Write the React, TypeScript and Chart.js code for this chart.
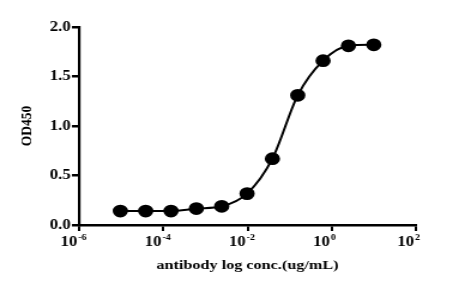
import React, { useEffect, useRef } from "react";
import { Chart, registerables } from "chart.js";

Chart.register(...registerables);

const concentrations = [
  0.0000095367431640625, 0.00003814697265625, 0.000152587890625, 0.0006103515625,
  0.00244140625, 0.009765625, 0.0390625, 0.15625, 0.625, 2.5, 10,
];
const od450 = [0.141, 0.141, 0.141, 0.166, 0.189, 0.317, 0.67, 1.31, 1.66, 1.81, 1.82];
const xTickValues = [1e-6, 1e-4, 1e-2, 1e0, 1e2];
const xTickBase = "10";
const xTickExponents = ["-6", "-4", "-2", "0", "2"];
const yTickValues = [0, 0.5, 1.0, 1.5, 2.0];
const xTitle = "antibody log conc.(ug/mL)";
const yTitle = "OD450";

const FONT = "'Liberation Serif', 'Times New Roman', serif";
// The reference picture is stretched horizontally; draw narrower and stretch with CSS.
const DRAW_W = 388;
const DRAW_H = 288;

const powerTickPlugin = {
  id: "powerTicks",
  afterDraw(chart: any) {
    const { ctx } = chart;
    const xs = chart.scales.x;
    const baseY = chart.chartArea.bottom + 21;
    ctx.save();
    ctx.fillStyle = "#000";
    ctx.textBaseline = "alphabetic";
    xTickValues.forEach((v, i) => {
      const px = xs.getPixelForValue(v);
      ctx.font = `bold 14px ${FONT}`;
      ctx.textAlign = "right";
      ctx.fillText(xTickBase, px - 1.4, baseY);
      ctx.font = `bold 8.5px ${FONT}`;
      ctx.textAlign = "left";
      ctx.fillText(xTickExponents[i], px - 0.8, baseY - 6.5);
    });
    ctx.restore();
  },
};

export default function App() {
  const ref = useRef<HTMLCanvasElement | null>(null);

  useEffect(() => {
    document.body.style.margin = "0";
    const ctx = ref.current!;
    const chart = new Chart(ctx, {
      type: "scatter",
      plugins: [powerTickPlugin],
      data: {
        datasets: [
          {
            data: concentrations.map((x, i) => ({ x, y: od450[i] })),
            showLine: true,
            cubicInterpolationMode: "monotone",
            borderColor: "#000",
            backgroundColor: "#000",
            borderWidth: 2,
            pointRadius: 5.4,
            pointHoverRadius: 5.4,
            pointBackgroundColor: "#000",
            pointBorderColor: "#000",
          },
        ],
      },
      options: {
        responsive: false,
        animation: false,
        events: [],
        layout: { padding: { left: 14, right: 41, top: 27, bottom: 14 } },
        plugins: { legend: { display: false }, tooltip: { enabled: false } },
        scales: {
          x: {
            type: "logarithmic",
            min: 1e-6,
            max: 1e2,
            afterBuildTicks: (scale: any) => {
              scale.ticks = xTickValues.map((v) => ({ value: v }));
            },
            afterFit: (scale: any) => {
              scale.height = 49;
            },
            border: { display: true, color: "#000", width: 2.5 },
            grid: {
              display: true,
              drawOnChartArea: false,
              drawTicks: true,
              tickLength: 6,
              color: "#000",
              lineWidth: 2,
            },
            ticks: {
              display: false,
              autoSkip: false,
              maxRotation: 0,
            },
            title: {
              display: true,
              text: xTitle,
              color: "#000",
              font: { family: FONT, size: 13.5, weight: "bold" },
              padding: { top: 4, bottom: 0 },
            },
          },
          y: {
            type: "linear",
            min: 0,
            max: 2,
            afterBuildTicks: (scale: any) => {
              scale.ticks = yTickValues.map((v) => ({ value: v }));
            },
            afterFit: (scale: any) => {
              scale.width = 52;
            },
            border: { display: true, color: "#000", width: 2.2 },
            grid: {
              display: true,
              drawOnChartArea: false,
              drawTicks: true,
              tickLength: 6,
              color: "#000",
              lineWidth: 2.5,
            },
            ticks: {
              color: "#000",
              padding: 1,
              font: { family: FONT, size: 14, weight: "bold" },
              callback: (v: any) => Number(v).toFixed(1),
            },
            title: {
              display: true,
              text: yTitle,
              color: "#000",
              font: { family: FONT, size: 13.5, weight: "bold" },
              padding: { top: 0, bottom: 4 },
            },
          },
        },
      },
    });
    return () => chart.destroy();
  }, []);

  return (
    <div style={{ position: "absolute", left: 0, top: 0, width: 465, height: 288, background: "#fff", overflow: "hidden" }}>
      <canvas
        ref={ref}
        width={DRAW_W}
        height={DRAW_H}
        style={{ width: 465, height: 288, display: "block" }}
      />
    </div>
  );
}
